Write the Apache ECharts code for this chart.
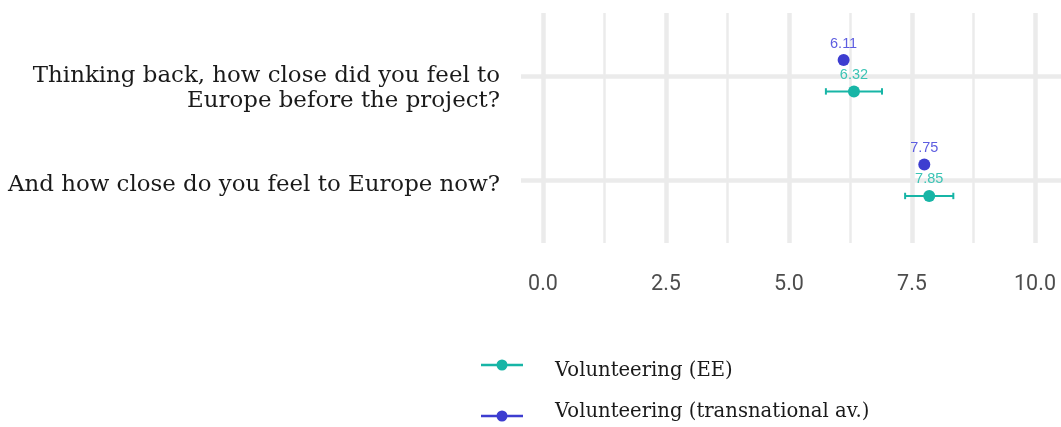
<!DOCTYPE html>
<html>
<head>
<meta charset="utf-8">
<script src="https://cdn.jsdelivr.net/npm/echarts@6/dist/echarts.min.js"></script>
<style>
html,body{margin:0;padding:0;background:#fff;}
#chart{width:1061px;height:427px;}
</style>
</head>
<body>
<div id="chart"></div>
<script>
// ---- data ----
var categories = [
  'Thinking back, how close did you feel to\nEurope before the project?',
  'And how close do you feel to Europe now?'
];
var seriesNames = ['Volunteering (EE)', 'Volunteering (transnational av.)'];
var eeValues = [6.32, 7.85];
var eeLow = [5.75, 7.36];
var eeHigh = [6.89, 8.34];
var transValues = [6.11, 7.75];
var xTicks = [0, 2.5, 5, 7.5, 10];

// ---- styles ----
var TEAL = '#17b5a6';
var BLUE = '#3d3dd0';
var GRID = '#ebebeb';
var DODGE = 0.15;
var SERIF = '"DejaVu Serif", serif';
var TXT = '#1a1a1a';

var chart = echarts.init(document.getElementById('chart'), null, {renderer: 'canvas'});

var eePts = eeValues.map(function (v, i) { return [v, i + DODGE]; });
var trPts = transValues.map(function (v, i) { return [v, i - DODGE]; });
var errData = eeValues.map(function (v, i) { return [eeLow[i], eeHigh[i], i + DODGE]; });

var iconPath = 'path://M0,4.25h42v2.5H0z M15.5,5.5a5.5,5.5 0 1,1 11,0a5.5,5.5 0 1,1 -11,0z';

function makeLegend(i, top, vAlign, spacerH) {
  return {
    orient: 'vertical', left: 481, top: top, padding: 0,
    itemWidth: 42, itemHeight: 11,
    data: [{name: seriesNames[i], icon: iconPath}],
    formatter: function (n) { return '{s| }{t|' + n + '}'; },
    textStyle: {
      color: TXT, fontSize: 19.6, fontFamily: SERIF,
      rich: {
        s: {width: 27, lineHeight: spacerH, fontSize: 19.6, fontFamily: SERIF},
        t: {lineHeight: 20, verticalAlign: vAlign, fontSize: 19.6, fontFamily: SERIF, color: TXT}
      }
    }
  };
}

var option = {
  animation: false,
  backgroundColor: '#fff',
  grid: [
    {left: 543, width: 492, top: 13, height: 230, outerBoundsMode: 'none', containLabel: false},
    {left: 521, right: 0, top: 76, height: 104.3, outerBoundsMode: 'none', containLabel: false}
  ],
  xAxis: [
    {
      gridIndex: 0, type: 'value', min: xTicks[0], max: xTicks[xTicks.length - 1], interval: 2.5,
      axisLine: {show: false}, axisTick: {show: false},
      minorTick: {show: false, splitNumber: 2},
      splitLine: {show: true, lineStyle: {color: GRID, width: 4.5}},
      minorSplitLine: {show: true, lineStyle: {color: GRID, width: 2.5}},
      axisLabel: {
        margin: 31, color: '#4d4d4d', fontSize: 21.5, fontFamily: 'Roboto, sans-serif',
        formatter: function (v) { return v.toFixed(1); }
      }
    },
    {
      gridIndex: 1, type: 'value', show: false, min: 0, max: 1,
      splitLine: {show: false}
    }
  ],
  yAxis: [
    {
      gridIndex: 0, type: 'value', min: -0.6, max: 1.6, inverse: true, show: false,
      splitLine: {show: false}
    },
    {
      gridIndex: 1, type: 'category', data: categories, inverse: true, boundaryGap: false,
      axisLine: {show: false}, axisTick: {show: false},
      splitLine: {show: true, lineStyle: {color: GRID, width: 4.5}},
      axisLabel: {
        margin: 21, color: TXT, fontSize: 22.9, fontFamily: SERIF, lineHeight: 25,
        align: 'right',
        formatter: function (v, i) {
          if (v.indexOf('\n') >= 0) { return '\n' + v; }
          return '{s| }{t|' + v + '}';
        },
        rich: {
          s: {width: 1, lineHeight: 33, fontSize: 22.9, fontFamily: SERIF},
          t: {lineHeight: 25, verticalAlign: 'bottom', fontSize: 22.9, fontFamily: SERIF, color: TXT}
        }
      }
    }
  ],
  legend: [makeLegend(0, 355, 'bottom', 32), makeLegend(1, 402, 'top', 28)],
  series: [
    {
      type: 'custom', name: 'ee-error', xAxisIndex: 0, yAxisIndex: 0, z: 3,
      data: errData, encode: {x: [0, 1], y: 2},
      renderItem: function (params, api) {
        var a = api.coord([api.value(0), api.value(2)]);
        var b = api.coord([api.value(1), api.value(2)]);
        var h = 3.2;
        var st = {stroke: TEAL, lineWidth: 2};
        return {
          type: 'group',
          children: [
            {type: 'line', shape: {x1: a[0], y1: a[1], x2: b[0], y2: b[1]}, style: st},
            {type: 'line', shape: {x1: a[0], y1: a[1] - h, x2: a[0], y2: a[1] + h}, style: st},
            {type: 'line', shape: {x1: b[0], y1: b[1] - h, x2: b[0], y2: b[1] + h}, style: st}
          ]
        };
      }
    },
    {
      type: 'scatter', name: seriesNames[0], xAxisIndex: 0, yAxisIndex: 0, z: 4,
      data: eePts, symbolSize: 12, itemStyle: {color: TEAL, opacity: 1},
      label: {
        show: true, position: 'top', distance: 3, color: '#3cc4b5', fontSize: 14.5,
        fontFamily: '"Liberation Sans", Arial, sans-serif',
        formatter: function (p) { return p.value[0].toFixed(2); }
      }
    },
    {
      type: 'scatter', name: seriesNames[1], xAxisIndex: 0, yAxisIndex: 0, z: 4,
      data: trPts, symbolSize: 12, itemStyle: {color: BLUE, opacity: 1},
      label: {
        show: true, position: 'top', distance: 3, color: '#5d5de0', fontSize: 14.5,
        fontFamily: '"Liberation Sans", Arial, sans-serif',
        formatter: function (p) { return p.value[0].toFixed(2); }
      }
    }
  ]
};
chart.setOption(option);
</script>
</body>
</html>
